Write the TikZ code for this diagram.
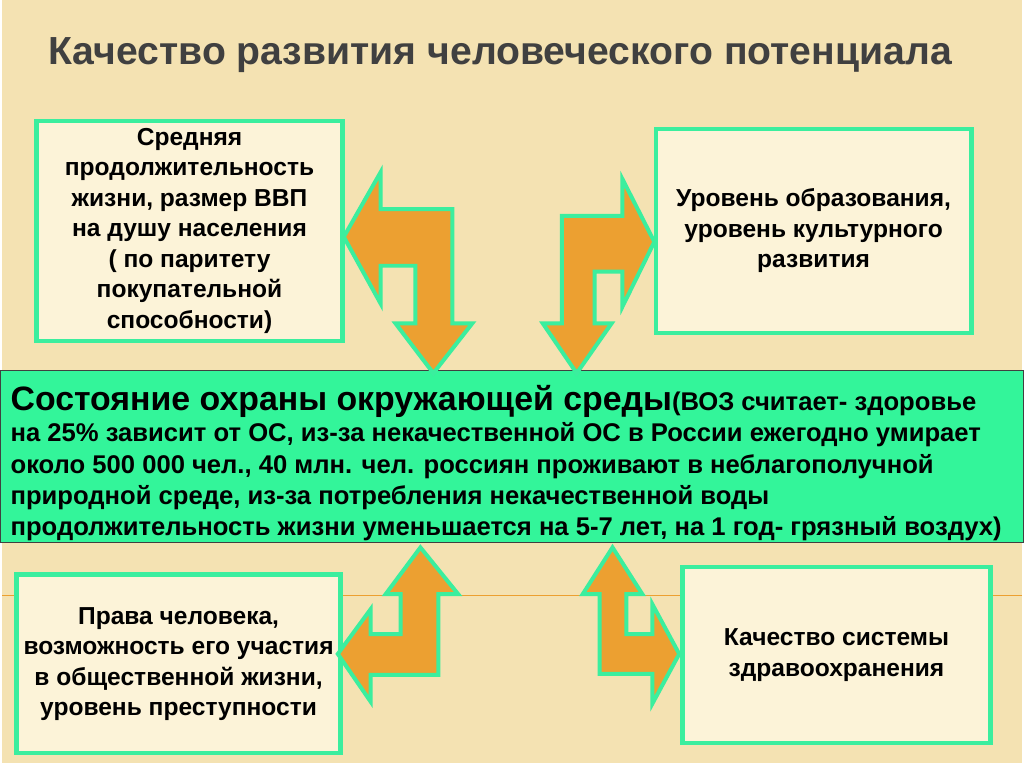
\documentclass[tikz,border=0pt]{standalone}
\usepackage{fontspec}
\setmainfont{Liberation Sans}
\definecolor{bgbeige}{HTML}{F4E2B2}
\definecolor{boxfill}{HTML}{FCF3D8}
\definecolor{mint}{HTML}{3BEE9E}
\definecolor{band}{HTML}{33F59A}
\definecolor{orangearr}{HTML}{ECA031}
\definecolor{titlegray}{HTML}{404040}
\tikzset{
  infobox/.style={draw=mint, line width=3.5pt, fill=boxfill, align=center, inner sep=0pt, font=\bfseries\fontsize{18.5}{23}\selectfont},
  bentarrow/.style={fill=orangearr, draw=mint, line width=3pt, line join=miter}
}
\begin{document}
\begin{tikzpicture}[x=0.75pt, y=-0.75pt]
            \fill[bgbeige] (0,0) rectangle (1024,767);
            \draw[orangearr, line width=1pt] (0,598) -- (1024,598);
            \node[font=\bfseries\fontsize{29.5}{34}\selectfont, text=titlegray] (title) at (500,55) {Качество развития человеческого потенциала};

            % boxes
            \node[infobox, minimum width=307*0.75pt, minimum height=221*0.75pt] (life) at (188,232) {Средняя\\продолжительность\\жизни, размер ВВП\\на душу населения\\( по паритету\\покупательной\\способности)};
            \node[infobox, minimum width=317*0.75pt, minimum height=205*0.75pt] (edu) at (815,232) {Уровень образования,\\уровень культурного\\развития};
            \node[infobox, minimum width=325*0.75pt, minimum height=179*0.75pt] (rights) at (177,667) {Права человека,\\возможность его участия\\в общественной жизни,\\уровень преступности};
            \node[infobox, minimum width=310*0.75pt, minimum height=177*0.75pt] (health) at (838,658) {Качество системы\\здравоохранения};

            % central band
            \draw[draw=titlegray, line width=0.6pt, fill=band] (-2,372) rectangle (1026,545);
            \node[anchor=north west, align=left, inner sep=0pt, font=\bfseries\fontsize{19.3}{23.6}\selectfont] (env) at (8,387)
              {{\fontsize{25.5}{23.6}\selectfont Состояние охраны окружающей среды}(ВОЗ считает- здоровье\\на 25\% зависит от ОС, из-за некачественной ОС в России ежегодно умирает\\около 500 000 чел., 40 млн. чел. россиян проживают в неблагополучной\\природной среде, из-за потребления некачественной воды\\продолжительность жизни уменьшается на 5-7 лет, на 1 год- грязный воздух)};

            % bent arrows
            \draw[bentarrow] (343,238) -- (380,173) -- (380,210) -- (452,210) -- (452,325) -- (472,325) -- (433,375) -- (395,325) -- (415,325) -- (415,267) -- (380,267) -- (380,305) -- cycle;
            \draw[bentarrow] (655,243) -- (623,180) -- (623,217) -- (562,217) -- (562,325) -- (543,325) -- (577,375) -- (612,325) -- (595,325) -- (595,273) -- (623,273) -- (623,308) -- cycle;
            \draw[bentarrow] (420,550) -- (458,597) -- (438,597) -- (438,678) -- (370,678) -- (370,705) -- (337,657) -- (370,612) -- (370,637) -- (400,637) -- (400,597) -- (385,597) -- cycle;
            \draw[bentarrow] (613,550) -- (643,597) -- (627,597) -- (627,637) -- (653,637) -- (653,607) -- (680,657) -- (653,707) -- (653,677) -- (600,677) -- (600,597) -- (583,597) -- cycle;
        \end{tikzpicture}
\end{document}
